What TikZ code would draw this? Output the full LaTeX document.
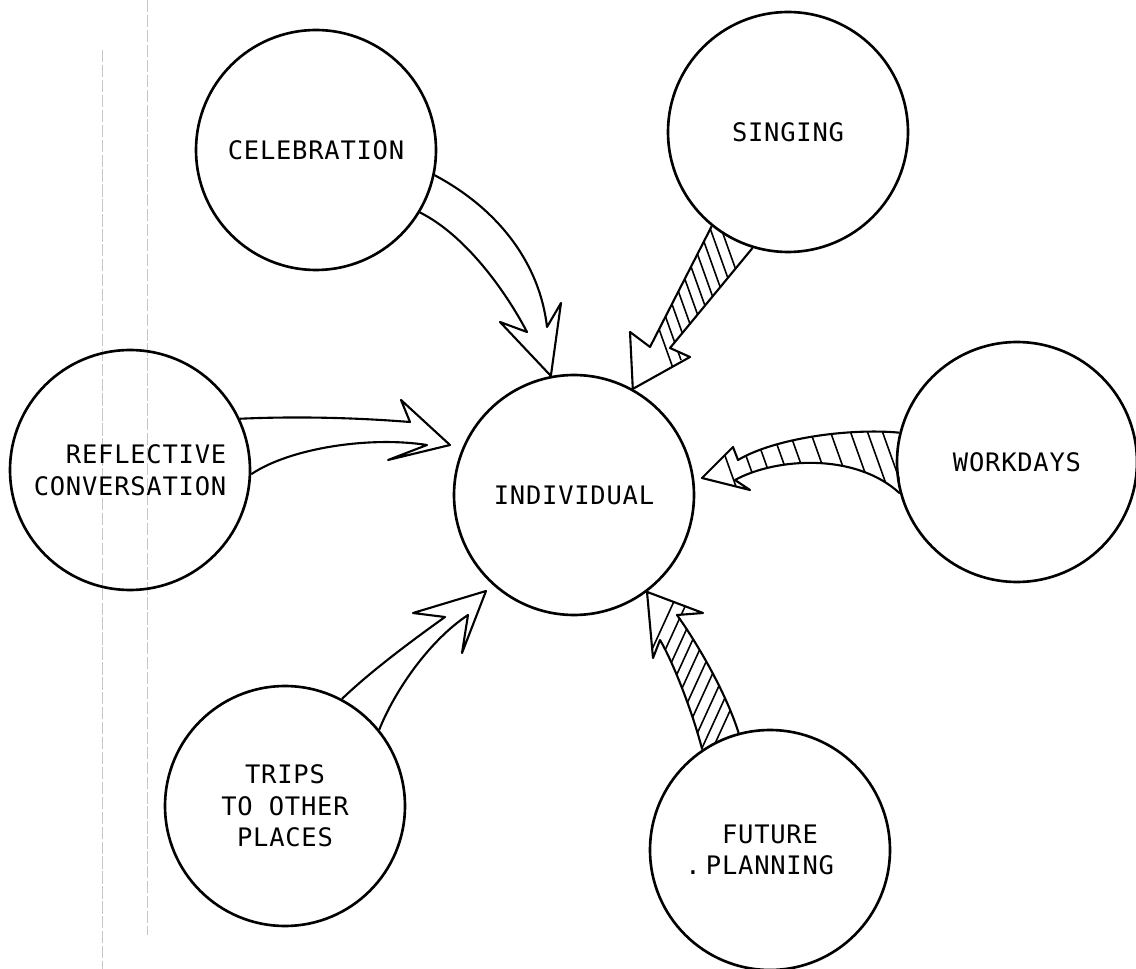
\documentclass[tikz,border=0pt]{standalone}
\usepackage{fontspec}
\newfontfamily\typefont[LetterSpace=3]{DejaVu Sans Mono}
\usepackage{tikz}

\begin{document}
\begin{tikzpicture}[x=0.02cm,y=-0.02cm,
		bubble/.style={draw,circle,line width=1.5pt,minimum size=4.8cm,inner sep=0pt,align=center,font=\typefont\fontsize{14.5}{18}\selectfont},
		blockarrow/.style={line width=1.2pt,line join=round},
		hatch/.style={line width=0.9pt},
		scanline/.style={gray!45,line width=0.4pt,dash pattern=on 7pt off 1.5pt}]
				\useasboundingbox (0,0) rectangle (1136,969);
				
				\draw[scanline] (102,50) -- (102,969);
				\draw[scanline] (147,0) -- (147,935);
				
				\path (574,495) node[bubble] (indiv) {INDIVIDUAL};
				\path (316,150) node[bubble] (celeb) {CELEBRATION};
				\path (788,132) node[bubble] (sing) {SINGING};
				\path (130,470) node[bubble,align=right] (refl) {REFLECTIVE\\CONVERSATION};
				\path (1017,462) node[bubble] (work) {WORKDAYS};
				\path (285,806) node[bubble] (trips) {TRIPS\\TO OTHER\\PLACES};
				\path (770,850) node[bubble] (plan) {FUTURE\\\llap{.\hspace{3pt}}PLANNING};
				
				\draw[blockarrow] (celeb.-12) .. controls (500,210) and (540,265) .. (547,327) -- (561,303) -- (indiv.101) -- (500,322) -- (527,332) .. controls (505,290) and (465,235) .. (celeb.-31);
				\draw[blockarrow] (refl.25) .. controls (300,416) and (360,418) .. (410,422) -- (401,400) -- (450,445) -- (388,460) -- (427,445) .. controls (370,436) and (290,448) .. (refl.-2);
				\draw[blockarrow] (trips.62) .. controls (370,672) and (410,642) .. (445,617) -- (413,613) -- (486,591) -- (462,653) -- (468,615) .. controls (430,640) and (395,690) .. (trips.39);
				
				\begin{scope}
				\clip (sing.-129) -- (650,347) -- (630,332) -- (indiv.61) -- (690,357) -- (670,348) -- (sing.-107) -- cycle;
				\draw[hatch] (717,217) -- ++(20,56);
				\draw[hatch] (710,228) -- ++(20,56);
				\draw[hatch] (703,239) -- ++(20,56);
				\draw[hatch] (696,250) -- ++(20,56);
				\draw[hatch] (689,261) -- ++(20,56);
				\draw[hatch] (682,271) -- ++(20,56);
				\draw[hatch] (675,282) -- ++(20,56);
				\draw[hatch] (668,293) -- ++(20,56);
				\draw[hatch] (661,304) -- ++(20,56);
				\draw[hatch] (654,315) -- ++(20,56);
				\end{scope}
				\draw[blockarrow] (sing.-129) -- (650,347) -- (630,332) -- (indiv.61) -- (690,357) -- (670,348) -- (sing.-107);
				
				\begin{scope}
				\clip (work.166) .. controls (850,428) and (775,438) .. (738,460) -- (733,447) -- (702,478) -- (750,490) -- (735,480) .. controls (775,458) and (855,452) .. (work.195) -- cycle;
				\draw[hatch] (880,425) -- ++(25,70);
				\draw[hatch] (865,425) -- ++(25,70);
				\draw[hatch] (848,425) -- ++(25,70);
				\draw[hatch] (828,425) -- ++(25,70);
				\draw[hatch] (808,425) -- ++(25,70);
				\draw[hatch] (787,425) -- ++(25,70);
				\draw[hatch] (770,425) -- ++(25,70);
				\draw[hatch] (752,425) -- ++(25,70);
				\draw[hatch] (735,425) -- ++(25,70);
				\draw[hatch] (714,425) -- ++(25,70);
				\end{scope}
				\draw[blockarrow] (work.166) .. controls (850,428) and (775,438) .. (738,460) -- (733,447) -- (702,478) -- (750,490) -- (735,480) .. controls (775,458) and (855,452) .. (work.195);
				
				\begin{scope}
				\clip (plan.124) .. controls (692,710) and (672,660) .. (660,640) -- (653,658) -- (indiv.-53) -- (703,613) -- (677,615) .. controls (695,640) and (725,690) .. (plan.105) -- cycle;
				\draw[hatch] (702,772) -- ++(32,-70);
				\draw[hatch] (697,759) -- ++(32,-70);
				\draw[hatch] (691,747) -- ++(32,-70);
				\draw[hatch] (685,734) -- ++(32,-70);
				\draw[hatch] (679,721) -- ++(32,-70);
				\draw[hatch] (673,708) -- ++(32,-70);
				\draw[hatch] (667,696) -- ++(32,-70);
				\draw[hatch] (662,683) -- ++(32,-70);
				\draw[hatch] (656,670) -- ++(32,-70);
				\draw[hatch] (649,656) -- ++(32,-70);
				\end{scope}
				\draw[blockarrow] (plan.124) .. controls (692,710) and (672,660) .. (660,640) -- (653,658) -- (indiv.-53) -- (703,613) -- (677,615) .. controls (695,640) and (725,690) .. (plan.105);
\end{tikzpicture}
\end{document}
